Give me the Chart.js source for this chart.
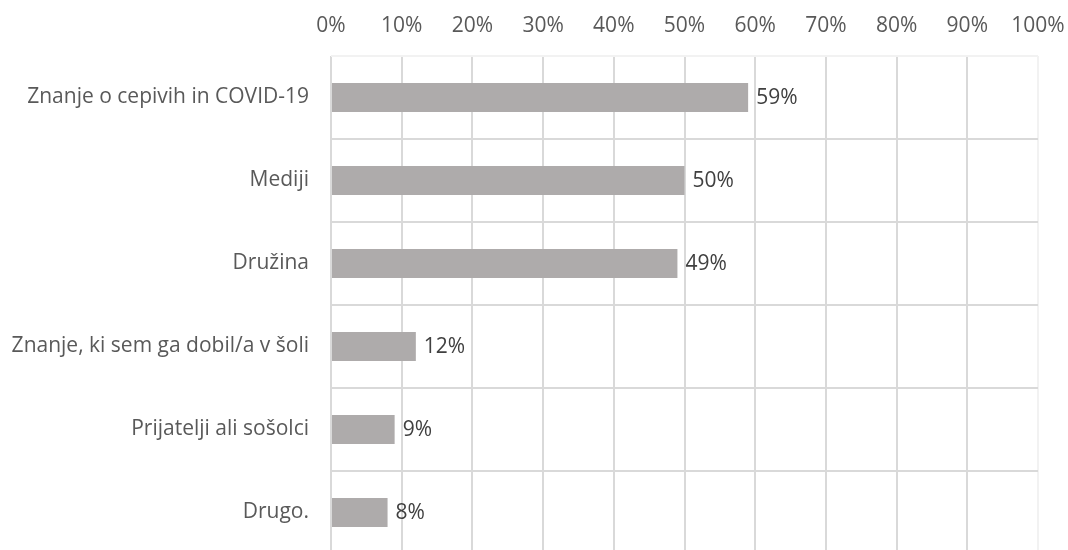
<!DOCTYPE html>
<html>
<head>
<meta charset="utf-8">
<script src="https://cdn.jsdelivr.net/npm/chart.js@4/dist/chart.umd.min.js"></script>
<style>
  html, body { margin: 0; padding: 0; background: #fff; overflow: hidden; }
  #wrap { width: 1068px; height: 550px; overflow: hidden; }
</style>
</head>
<body>
<div id="wrap"><canvas id="chart" width="1068" height="556"></canvas></div>
<script>
const categories = [
  'Znanje o cepivih in COVID-19',
  'Mediji',
  'Družina',
  'Znanje, ki sem ga dobil/a v šoli',
  'Prijatelji ali sošolci',
  'Drugo.'
];
const shares = [59, 50, 49, 12, 9, 8];
const tickSteps = [0, 10, 20, 30, 40, 50, 60, 70, 80, 90, 100];

const FONT = '"Open Sans", sans-serif';

// writes "NN%" just right of each bar end
const valueLabels = {
  id: 'valueLabels',
  afterDatasetsDraw(chart) {
    const { ctx } = chart;
    const meta = chart.getDatasetMeta(0);
    ctx.save();
    ctx.font = '21px ' + FONT;
    ctx.fillStyle = '#404040';
    ctx.textAlign = 'left';
    ctx.textBaseline = 'middle';
    meta.data.forEach((bar, i) => {
      ctx.fillText(shares[i] + '%', bar.x + 8, bar.y + 1);
    });
    ctx.restore();
  }
};

new Chart(document.getElementById('chart'), {
  type: 'bar',
  data: {
    labels: categories,
    datasets: [{
      data: shares,
      backgroundColor: '#aeabab',
      borderWidth: 0,
      categoryPercentage: 1,
      barPercentage: 0.35
    }]
  },
  options: {
    indexAxis: 'y',
    responsive: false,
    animation: false,
    layout: { padding: { top: 0, right: 30, bottom: 2, left: 0 } },
    plugins: {
      legend: { display: false },
      tooltip: { enabled: false }
    },
    scales: {
      x: {
        position: 'top',
        min: 0,
        max: 100,
        afterBuildTicks(scale) {
          scale.ticks = tickSteps.map(v => ({ value: v }));
        },
        afterFit(scale) {
          scale.height = 56;
          scale.paddingLeft = 0;
          scale.paddingRight = 0;
        },
        ticks: {
          callback: v => v + '%',
          color: '#595959',
          font: { family: FONT, size: 21 },
          padding: 17,
          maxRotation: 0
        },
        grid: {
          color: c => (c.tick && c.tick.value === 100) ? '#f2f2f2' : '#d9d9d9',
          lineWidth: 2,
          drawTicks: false
        },
        border: { display: false }
      },
      y: {
        afterFit(scale) {
          scale.width = 331;
          scale.paddingTop = 0;
          scale.paddingBottom = 0;
        },
        ticks: {
          color: '#595959',
          font: { family: FONT, size: 21 },
          padding: 22
        },
        grid: {
          offset: true,
          color: c => c.index === 0 ? '#f2f2f2' : '#d9d9d9',
          lineWidth: 2,
          drawTicks: false
        },
        border: { display: false }
      }
    }
  },
  plugins: [valueLabels]
});
</script>
</body>
</html>
